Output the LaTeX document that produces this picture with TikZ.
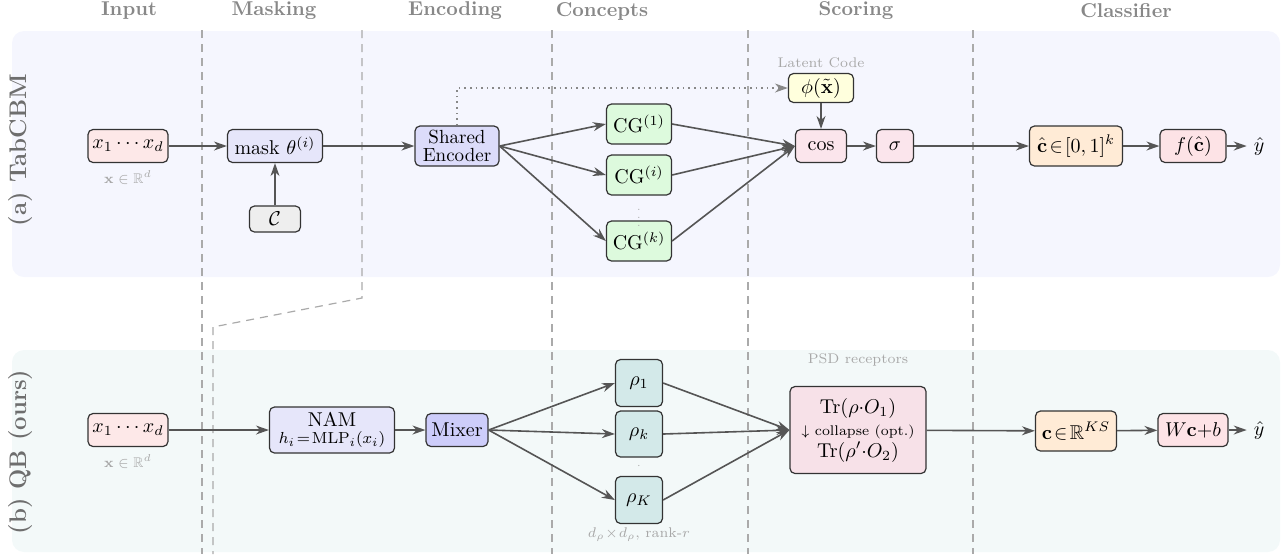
\documentclass[tikz,border=0pt]{standalone}
\usepackage{amsmath,amssymb}
\usetikzlibrary{arrows.meta,calc}
\definecolor{panelA}{HTML}{F5F6FE}
\definecolor{panelB}{HTML}{F3F9F9}
\definecolor{inpfill}{HTML}{FDE8E8}
\definecolor{maskfill}{HTML}{E6E6FA}
\definecolor{encfill}{HTML}{DCDCFA}
\definecolor{mixfill}{HTML}{CDCDFA}
\definecolor{cgfill}{HTML}{DDFADD}
\definecolor{phifill}{HTML}{FFFFDD}
\definecolor{cosfill}{HTML}{FBE5EC}
\definecolor{outfill}{HTML}{FFEBD6}
\definecolor{ffill}{HTML}{FDE3E6}
\definecolor{cfill}{HTML}{EEEEEE}
\definecolor{rhofill}{HTML}{D3E9E9}
\definecolor{trfill}{HTML}{F7E1E8}
\definecolor{arrowgray}{HTML}{555555}
\definecolor{sepgray}{HTML}{AAAAAA}
\definecolor{headgray}{HTML}{888888}
\definecolor{labgray}{HTML}{A8A8A8}
\definecolor{sidegray}{HTML}{6E6E6E}
\tikzset{
  box/.style={draw=black!80, rounded corners=2.5pt, line width=0.6pt, inner sep=1pt, align=center, font=\normalsize},
  arr/.style={-{Stealth[length=6.5pt,width=4.5pt]}, line width=0.8pt, draw=arrowgray},
  sepline/.style={draw=sepgray, line width=0.6pt, dash pattern=on 4pt off 3pt},
  head/.style={font=\normalsize\bfseries, text=headgray},
  lab/.style={font=\scriptsize, text=labgray},
  side/.style={rotate=90, font=\large\bfseries, text=sidegray},
}
\begin{document}
\begin{tikzpicture}[x=0.5pt,y=-0.5pt]
\useasboundingbox (0,0) rectangle (1283,554);
% panels
\fill[panelA, rounded corners=6pt] (12,31) rectangle (1280,277);
\fill[panelB, rounded corners=6pt] (12,350) rectangle (1280,552);
% column separators
\draw[sepline] (202,30) -- (202,554);
\draw[sepline] (362,30) -- (362,298) -- (213,327) -- (213,554);
\draw[sepline] (552,30) -- (552,554);
\draw[sepline] (748,30) -- (748,554);
\draw[sepline] (973,30) -- (973,554);
% headers
\node[head] (hin) at (129,11) {Input};
\node[head] (hmask) at (274,11) {Masking};
\node[head] (henc) at (455,11) {Encoding};
\node[head] (hcon) at (602,11) {Concepts};
\node[head] (hsco) at (856,11) {Scoring};
\node[head] (hcla) at (1126,11) {Classifier};
% side labels
\node[side] (sa) at (21,150) {(a) TabCBM};
\node[side] (sb) at (21,452) {(b) QB (ours)};

% ---------- (a) TabCBM ----------
\node[box, fill=inpfill, minimum width=40pt, minimum height=16.5pt] (xa) at (128,146) {$x_1\cdots x_d$};
\node[lab] (xal) at (128,178) {$\mathbf{x}\in\mathbb{R}^d$};
\node[box, fill=maskfill, minimum width=47.5pt, minimum height=16.5pt] (mask) at (275,146) {mask $\theta^{(i)}$};
\node[box, fill=cfill, minimum width=25.5pt, minimum height=13pt] (cset) at (275,219) {$\mathcal{C}$};
\node[box, fill=encfill, minimum width=42pt, minimum height=20pt, font={\fontsize{9.5}{8.7}\selectfont}] (enc) at (457,146) {Shared\\Encoder};
\node[box, fill=cgfill, minimum width=32.5pt, minimum height=20pt] (cg1) at (639,124) {CG$^{(1)}$};
\node[box, fill=cgfill, minimum width=32.5pt, minimum height=20pt] (cgi) at (639,175) {CG$^{(i)}$};
\node[box, fill=cgfill, minimum width=32.5pt, minimum height=20pt] (cgk) at (639,241) {CG$^{(k)}$};
\node[font=\tiny, text=labgray] (cgdots) at (639,212) {$\vdots$};
\node[lab] (latl) at (821,63) {Latent Code};
\node[box, fill=phifill, minimum width=32.5pt, minimum height=14.5pt] (phi) at (821,88) {$\phi(\tilde{\mathbf{x}})$};
\node[box, fill=cosfill, minimum width=25.5pt, minimum height=16.5pt] (cos) at (821,146) {$\cos$};
\node[box, fill=cosfill, minimum width=18.5pt, minimum height=16.5pt] (sig) at (895,146) {$\sigma$};
\node[box, fill=outfill, minimum width=46.5pt, minimum height=20pt] (chat) at (1076,146) {$\hat{\mathbf{c}}\!\in\![0,1]^k$};
\node[box, fill=ffill, minimum width=33pt, minimum height=16.5pt] (fc) at (1193,146) {$f(\hat{\mathbf{c}})$};
\node (ya) at (1259,146) {$\hat{y}$};

\draw[arr] (xa) -- (mask);
\draw[arr] (cset) -- (mask);
\draw[arr] (mask) -- (enc);
\draw[arr] (enc.east) -- (cg1.west);
\draw[arr] (enc.east) -- (cgi.west);
\draw[arr] (enc.east) -- (cgk.west);
\draw[arr] (cg1.east) -- (cos.west);
\draw[arr] (cgi.east) -- (cos.west);
\draw[arr] (cgk.east) -- (cos.west);
\draw[arr, draw=headgray, dotted] (enc.north) |- (phi.west);
\draw[arr] (phi) -- (cos);
\draw[arr] (cos) -- (sig);
\draw[arr] (sig) -- (chat);
\draw[arr] (chat) -- (fc);
\draw[arr] (fc) -- (ya);

% ---------- (b) QB ----------
\node[box, fill=inpfill, minimum width=40pt, minimum height=16.5pt] (xb) at (128,430) {$x_1\cdots x_d$};
\node[lab] (xbl) at (128,462) {$\mathbf{x}\in\mathbb{R}^d$};
\node[box, fill=maskfill, minimum width=62.5pt, minimum height=23pt, font={\fontsize{10}{8.5}\selectfont}] (nam) at (332,430) {NAM\\{\footnotesize $h_i\!=\!\mathrm{MLP}_i(x_i)$}};
\node[box, fill=mixfill, minimum width=31pt, minimum height=16.5pt] (mix) at (457,430) {Mixer};
\node[box, fill=rhofill, minimum width=23.5pt, minimum height=23.5pt] (r1) at (639,383) {$\rho_1$};
\node[box, fill=rhofill, minimum width=23.5pt, minimum height=23pt] (rk) at (639,434) {$\rho_k$};
\node[box, fill=rhofill, minimum width=23.5pt, minimum height=23.5pt] (rK) at (639,500) {$\rho_K$};
\node[font=\tiny, text=labgray] (rdots) at (639,466) {$\cdot$};
\node[lab] (rhol) at (639,535) {$d_\rho\!\times\! d_\rho$, rank-$r$};
\node[lab] (psdl) at (858,360) {PSD receptors};
\node[box, fill=trfill, minimum width=68pt, minimum height=43.5pt, font={\fontsize{10}{11}\selectfont}] (tr) at (858,430) {$\mathrm{Tr}(\rho{\cdot}O_1)$\\{\scriptsize $\downarrow$ collapse (opt.)}\\$\mathrm{Tr}(\rho'{\cdot}O_2)$};
\node[box, fill=outfill, minimum width=40.5pt, minimum height=20pt] (cvec) at (1076,431) {$\mathbf{c}\!\in\!\mathbb{R}^{KS}$};
\node[box, fill=ffill, minimum width=35pt, minimum height=16.5pt] (lin) at (1193,430) {$W\mathbf{c}{+}b$};
\node (yb) at (1259,430) {$\hat{y}$};

\draw[arr] (xb) -- (nam);
\draw[arr] (nam) -- (mix);
\draw[arr] (mix.east) -- (r1.west);
\draw[arr] (mix.east) -- (rk.west);
\draw[arr] (mix.east) -- (rK.west);
\draw[arr] (r1.east) -- (tr.west);
\draw[arr] (rk.east) -- (tr.west);
\draw[arr] (rK.east) -- (tr.west);
\draw[arr] (tr) -- (cvec);
\draw[arr] (cvec) -- (lin);
\draw[arr] (lin) -- (yb);
\end{tikzpicture}
\end{document}
